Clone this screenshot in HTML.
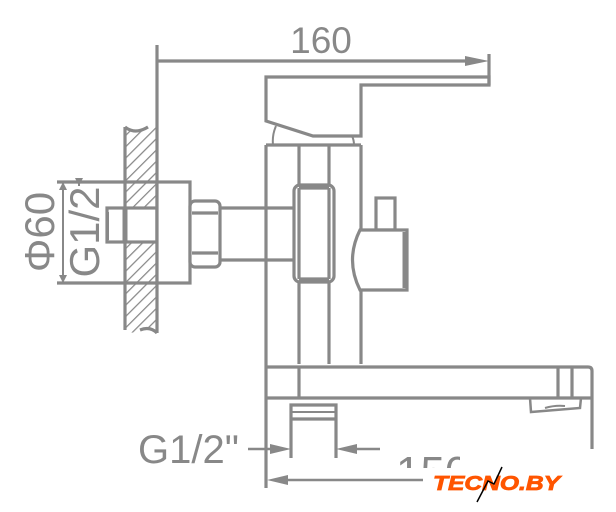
<!DOCTYPE html>
<html><head><meta charset="utf-8"><style>html,body{margin:0;padding:0;background:#fff}svg{display:block}</style></head>
<body>
<svg width="616" height="512" viewBox="0 0 616 512" xmlns="http://www.w3.org/2000/svg">
<defs>
<pattern id="h" width="8" height="8" patternUnits="userSpaceOnUse" patternTransform="rotate(45)">
<line x1="0" y1="0" x2="0" y2="8" stroke="#888" stroke-width="2.5"/>
</pattern>
<clipPath id="c150"><polygon points="380,420 470,420 470,445 460,445 460,468 380,468"/></clipPath>
</defs>
<g fill="none" stroke="#888" stroke-width="3.2">
<path d="M125,127 Q130,135 140,130 Q150,126 157,127 L157,333 Q150,325 140,330 Q130,336 125,328 Z" fill="url(#h)" stroke="none"/>
<path d="M125,127 L125,330 M140,330 Q150,326 157,333 M125,127 Q135,135 148,127"/>
<rect x="107" y="208" width="50" height="34" fill="#fff"/>
<line x1="125" y1="208" x2="125" y2="242" stroke-width="5"/>
<line x1="157" y1="45" x2="157" y2="333"/>
<rect x="157" y="182" width="33" height="101" fill="#fff"/>
<line x1="57" y1="182" x2="157" y2="182"/>
<line x1="57" y1="283" x2="157" y2="283"/>
<line x1="63" y1="182" x2="63" y2="283" stroke-width="2"/>
<line x1="79" y1="180" x2="79" y2="186" stroke-width="2"/>
<line x1="108" y1="212" x2="108" y2="240" stroke-width="2"/>
<rect x="190" y="201" width="30" height="66" rx="5" fill="#fff"/>
<line x1="192" y1="213" x2="218" y2="213"/>
<line x1="192" y1="253" x2="218" y2="253"/>
<line x1="220" y1="208" x2="297" y2="208"/>
<line x1="220" y1="260" x2="297" y2="260"/>
<line x1="266" y1="145" x2="266" y2="364"/>
<line x1="266" y1="145" x2="361" y2="145"/>
<line x1="299" y1="145" x2="299" y2="364"/>
<line x1="329" y1="145" x2="329" y2="364"/>
<line x1="361" y1="145" x2="361" y2="230"/>
<line x1="361" y1="290" x2="361" y2="364"/>
<rect x="294" y="185" width="40" height="97" rx="6" fill="#fff"/>
<line x1="299" y1="188" x2="329" y2="188"/>
<line x1="299" y1="279" x2="329" y2="279"/>
<line x1="299" y1="188" x2="299" y2="279"/>
<line x1="329" y1="188" x2="329" y2="279"/>
<path d="M266,77 L489,77 L489,85 L361,85 L361,136 L313,136 L266,121 Z"/>
<line x1="489" y1="54" x2="489" y2="85"/>
<path d="M276,126 Q272,135 273,145 M352,136 Q354,140 354,145" stroke-width="2"/>
<line x1="157" y1="61" x2="478" y2="61"/>
<polygon points="465,56 489,61 465,66" fill="#888" stroke="none"/>
<rect x="376" y="198" width="19" height="32"/>
<path d="M360,230 L407,230 L407,290 L360,290 Q345,260 360,230 Z" fill="#fff"/>
<line x1="405" y1="232" x2="405" y2="288" stroke-width="5"/>
<line x1="266" y1="364" x2="266" y2="488"/>
<path d="M266,367 L588,367 Q592,367 592,371 L592,449"/>
<line x1="266" y1="398" x2="592" y2="398"/>
<line x1="299" y1="367" x2="299" y2="398"/>
<line x1="558" y1="367" x2="558" y2="398"/>
<line x1="572" y1="367" x2="572" y2="398"/>
<path d="M530,398 L531,412 L580,408 L581,398" stroke-width="2.5"/>
<path d="M545,408 Q555,405 565,406" stroke-width="2"/>
<path d="M291,458 L291,405 L336,405 L336,458"/>
<line x1="291" y1="419" x2="336" y2="419"/>
<line x1="291" y1="412" x2="336" y2="412" stroke-width="2"/>
<line x1="248" y1="449" x2="280" y2="449" stroke-width="2.5"/>
<line x1="347" y1="449" x2="380" y2="449" stroke-width="2.5"/>
<polygon points="270,444 291,449 270,454" fill="#888" stroke="none"/>
<polygon points="357,444 336,449 357,454" fill="#888" stroke="none"/>
<line x1="276" y1="480" x2="423" y2="480" stroke-width="2.5"/>
<polygon points="288,475 267,480 288,485" fill="#888" stroke="none"/>
</g>
<polygon points="75,178 79,186 83,178" fill="#888"/>
<polygon points="59,190 63,182 67,190" fill="#888"/>
<polygon points="59,275 63,283 67,275" fill="#888"/>
<g font-family="Liberation Sans, sans-serif" fill="#888">
<text x="321" y="53" font-size="37" text-anchor="middle">160</text>
<text x="138" y="463" font-size="40">G1/2"</text>
<text transform="translate(54,232) rotate(-90)" font-size="42" text-anchor="middle">Φ60</text>
<text transform="translate(99,232) rotate(-90)" font-size="42" text-anchor="middle">G1/2</text>
<text x="396" y="487" font-size="44" clip-path="url(#c150)">150</text>
</g>
<text x="433" y="490" font-family="Liberation Sans, sans-serif" font-size="20" font-weight="900" font-style="italic" fill="#ff5500" stroke="#ff5500" stroke-width="0.8" textLength="127" lengthAdjust="spacingAndGlyphs">TECNO.BY</text>
<path d="M502,467 L494,484 L488,481 L477,502" stroke="#000" stroke-width="1.5" fill="none"/>
</svg>
</body></html>
